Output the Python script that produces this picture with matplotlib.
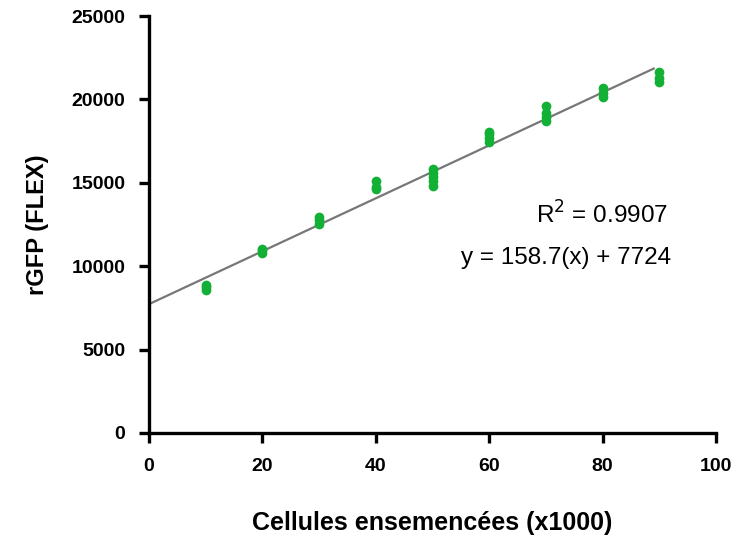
import matplotlib
matplotlib.use("Agg")
import matplotlib.pyplot as plt

plt.rcParams['font.family'] = ['Liberation Sans', 'DejaVu Sans']

x_levels = [10, 20, 30, 40, 50, 60, 70, 80, 90]
replicates = [
    [8600, 8750, 8900],
    [10800, 10950, 11050],
    [12550, 12750, 12950],
    [14650, 14750, 15100],
    [14800, 15100, 15350, 15600, 15800],
    [17450, 17700, 17900, 18050],
    [18700, 18950, 19200, 19600],
    [20150, 20400, 20700],
    [21050, 21300, 21650],
]
slope = 158.7
intercept = 7724
r2 = 0.9907
fit_x = [0, 89]

fig = plt.figure(figsize=(7.39, 5.39), dpi=100)
ax = fig.add_axes([0.2016, 0.1967, 0.7674, 0.7736])

xs, ys = [], []
for xv, reps in zip(x_levels, replicates):
    for r in reps:
        xs.append(xv)
        ys.append(r)

fy = [slope * v + intercept for v in fit_x]
ax.plot(fit_x, fy, color='#777777', lw=1.6, zorder=2)
ax.plot(xs, ys, 'o', color='#12B035', markersize=7, markeredgewidth=0, zorder=3)

ax.set_xlim(0, 100)
ax.set_ylim(0, 25000)
ax.set_xticks([0, 20, 40, 60, 80, 100])
ax.set_yticks([0, 5000, 10000, 15000, 20000, 25000])
for s in ['top', 'right']:
    ax.spines[s].set_visible(False)
for s in ['left', 'bottom']:
    ax.spines[s].set_linewidth(2.4)
ax.tick_params(direction='out', length=7, width=2.4, labelsize=14)
ax.tick_params(axis='y', pad=10)
ax.tick_params(axis='x', pad=11)
for lab in ax.get_xticklabels() + ax.get_yticklabels():
    lab.set_fontweight('bold')

ax.set_xlabel('Cellules ensemencées (x1000)', fontsize=18, fontweight='bold')
ax.set_ylabel('rGFP (FLEX)', fontsize=17, fontweight='bold')
ax.xaxis.set_label_coords(0.5, -0.187)
ax.yaxis.set_label_coords(-0.176, 0.5)

ax.text(91.5, 13070, r'R$^2$ = 0.9907', fontsize=17.5, ha='right', va='center')
ax.text(92.1, 10490, 'y = 158.7(x) + 7724', fontsize=17.5, ha='right', va='center')

fig.savefig('out.png', dpi=100)
